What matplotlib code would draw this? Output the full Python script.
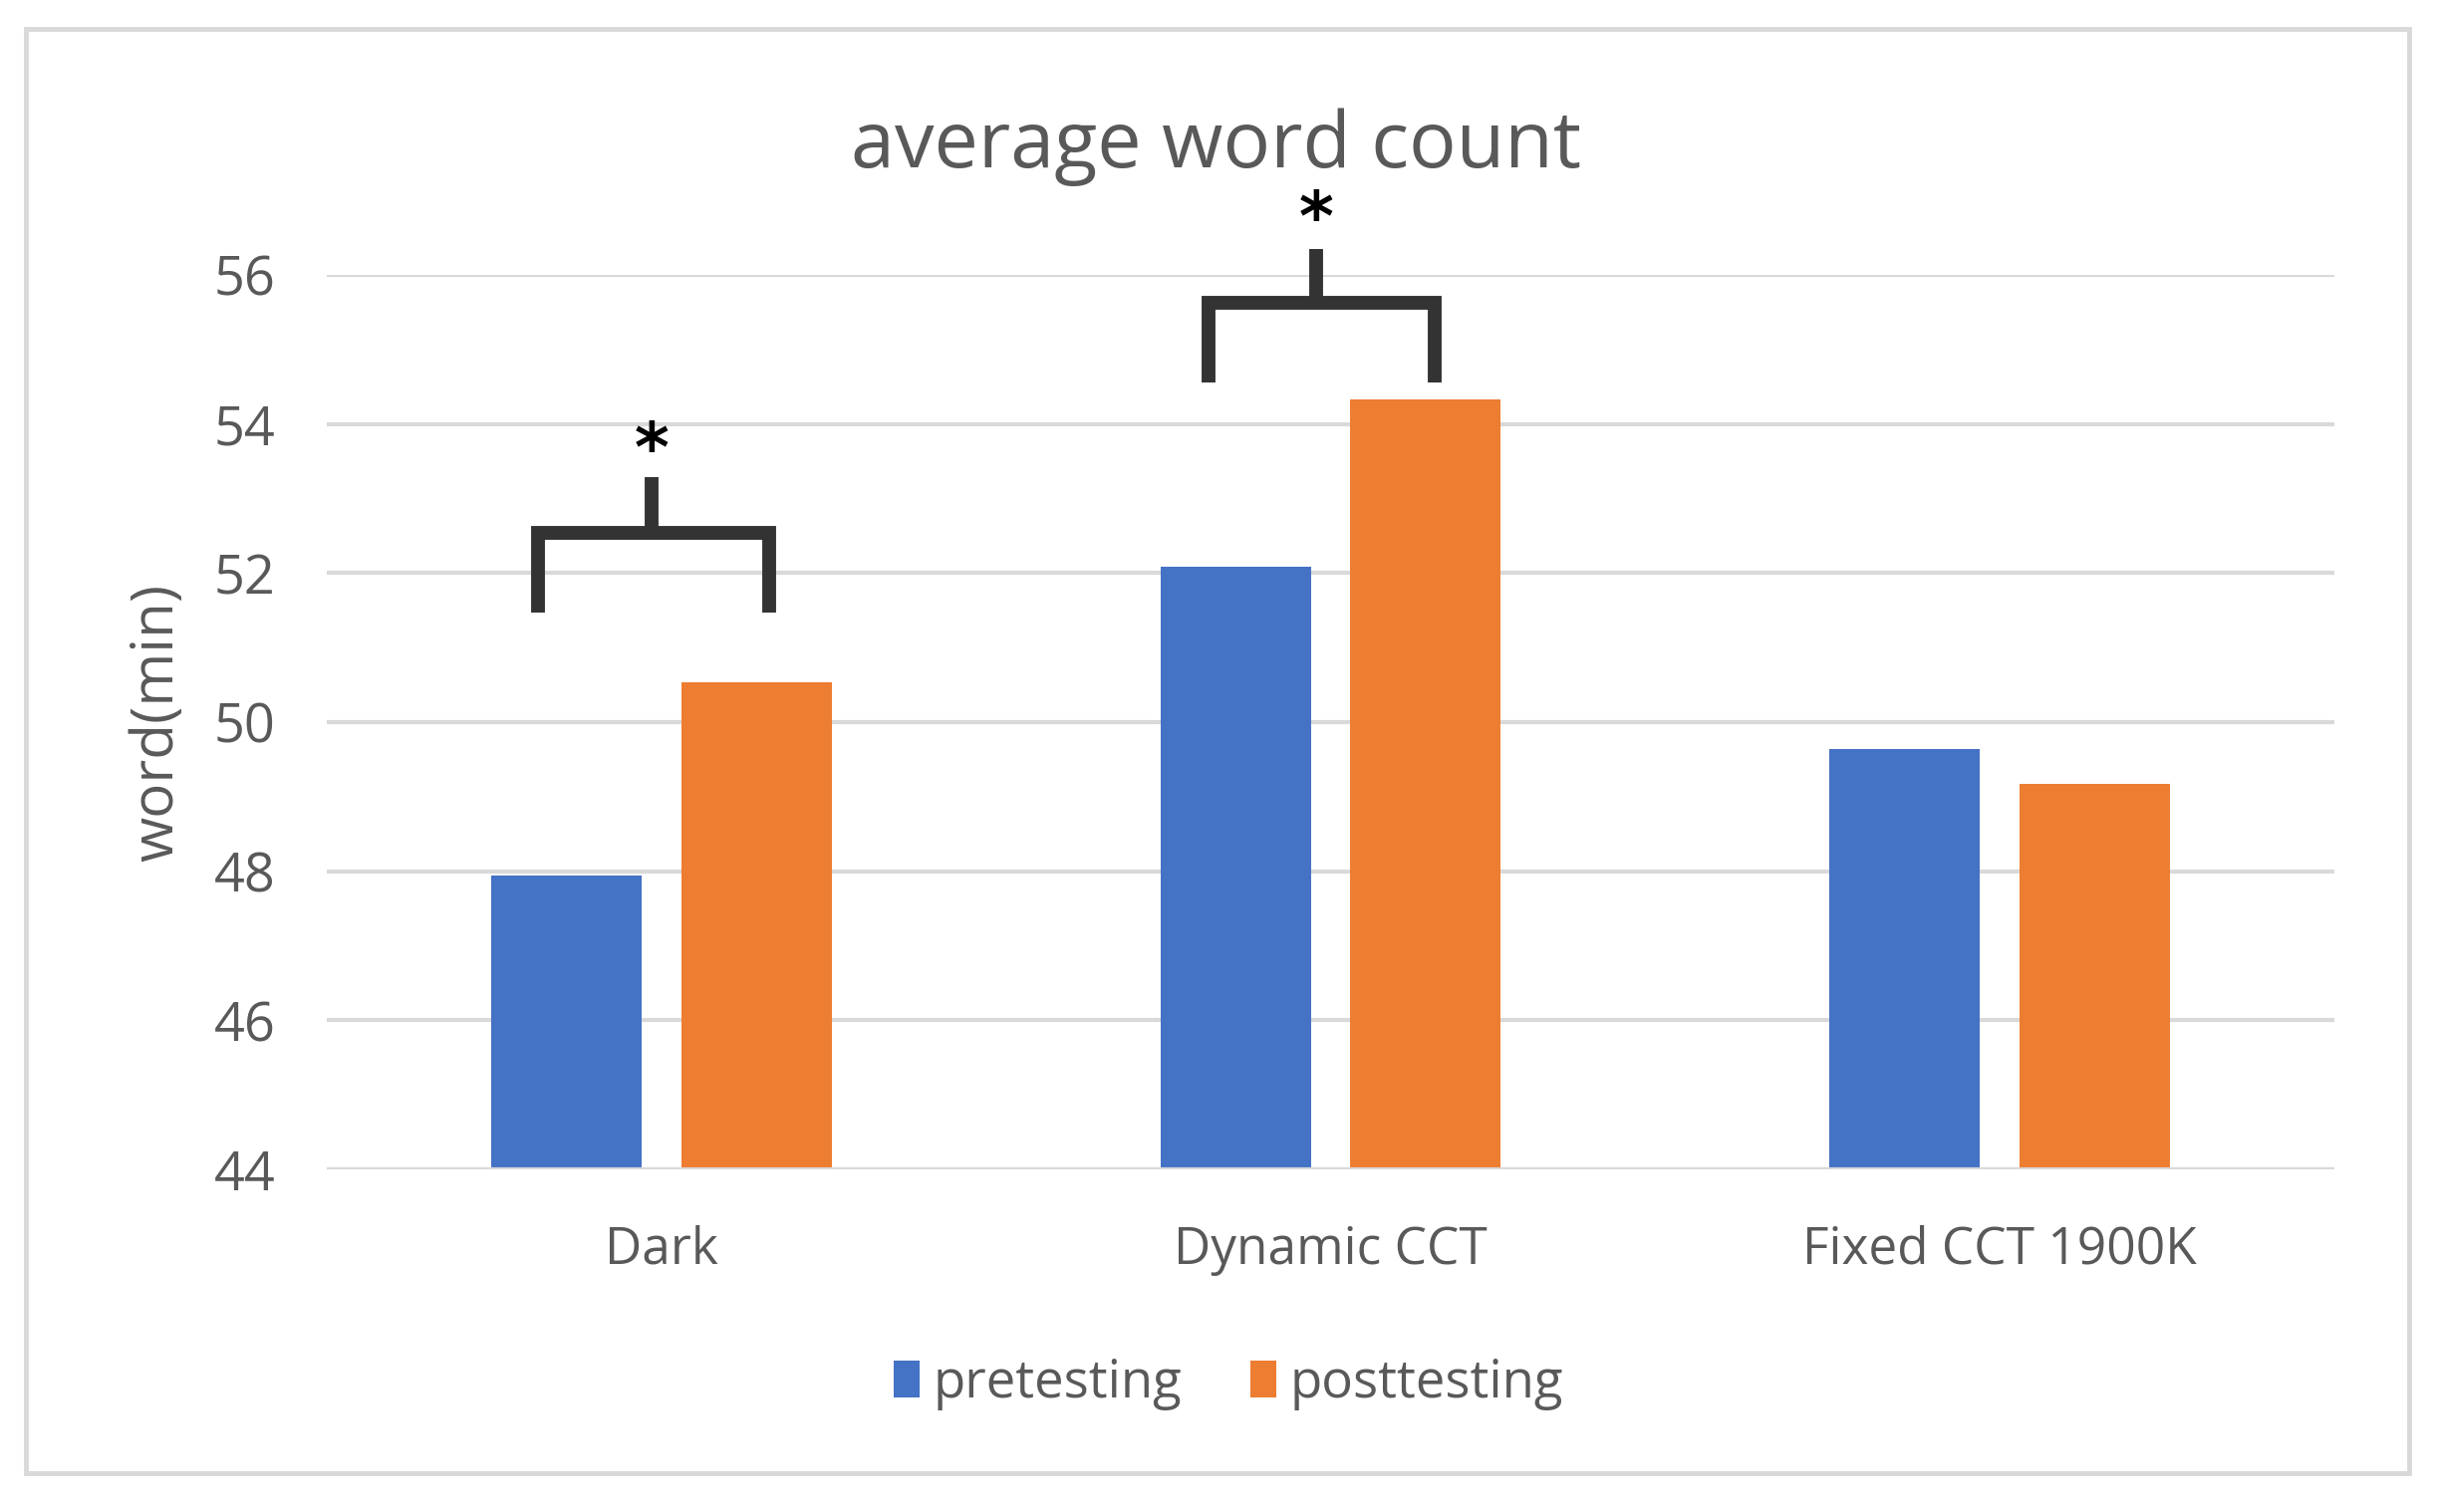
import matplotlib
matplotlib.use("Agg")
import matplotlib.pyplot as plt
import numpy as np
from matplotlib.patches import Rectangle

plt.rcParams['font.family'] = ['Open Sans', 'DejaVu Sans']

# data
categories = ["Dark", "Dynamic CCT", "Fixed CCT 1900K"]
series_names = ["pretesting", "posttesting"]
pretesting = [47.94, 52.08, 49.64]
posttesting = [50.53, 54.33, 49.17]
y_ticks = [44, 46, 48, 50, 52, 54, 56]

BLUE = "#4472C4"
ORANGE = "#ED7D31"
TEXT = "#595959"
GRID = "#D9D9D9"
BRACKET = "#333333"

fig = plt.figure(figsize=(24.46, 15.18), dpi=100)
ax = fig.add_axes([0.1341, 0.2266, 0.8238, 0.5916])

x = np.arange(len(categories))
w = 0.225
off = 0.142
ax.bar(x - off, pretesting, w, color=BLUE, label=series_names[0], zorder=3)
ax.bar(x + off, posttesting, w, color=ORANGE, label=series_names[1], zorder=3)

ax.set_xlim(-0.5, len(categories) - 0.5)
ax.set_ylim(y_ticks[0], y_ticks[-1])
ax.set_yticks(y_ticks)
ax.set_xticks(x)
ax.set_xticklabels(categories)
ax.tick_params(axis='both', length=0, labelcolor=TEXT)
ax.tick_params(axis='y', pad=37, labelsize=39)
ax.tick_params(axis='x', pad=40, labelsize=37)
ax.grid(axis='y', color=GRID, linewidth=3, zorder=0)
for s in ax.spines.values():
    s.set_visible(False)
ax.axhline(y_ticks[0], color=GRID, linewidth=3, zorder=4)

ax.set_ylabel("word(min)", fontsize=42, color=TEXT)
ax.yaxis.set_label_coords(-0.070, 0.5)

fig.text(0.499, 0.903, "average word count", fontsize=57, color=TEXT,
         ha='center', va='center')


# significance brackets: (left, right, stem x, leg bottom, bar y, stem top, star y)
def bracket(xl, xr, xs, ylo, ybar, ytop, ystar):
    ax.plot([xl, xl, xr, xr], [ylo, ybar, ybar, ylo], color=BRACKET,
            linewidth=10, solid_joinstyle='miter', solid_capstyle='butt',
            clip_on=False, zorder=5)
    ax.plot([xs, xs], [ybar, ytop], color=BRACKET, linewidth=10,
            solid_capstyle='butt', clip_on=False, zorder=5)
    ax.text(xs, ystar, "*", fontsize=48, color='black', ha='center',
            va='center', clip_on=False, fontweight='bold',
            family='DejaVu Sans')


bracket(-0.185, 0.161, -0.015, 51.47, 52.54, 53.29, 53.62)
bracket(0.817, 1.156, 0.979, 54.55, 55.62, 56.35, 56.72)

leg = fig.legend(loc='center', bbox_to_anchor=(0.504, 0.085), ncol=2,
                 frameon=False, fontsize=38, handlelength=0.5,
                 handleheight=0.7, handletextpad=0.25, columnspacing=1.3)
for t in leg.get_texts():
    t.set_color(TEXT)

fig.patches.append(Rectangle((26 / 2446, 1 - 1479 / 1518),
                             (2418 - 26) / 2446, (1479 - 29) / 1518,
                             transform=fig.transFigure, fill=False,
                             edgecolor=GRID, linewidth=3.5))

fig.savefig("out.png", dpi=100, facecolor='white')
